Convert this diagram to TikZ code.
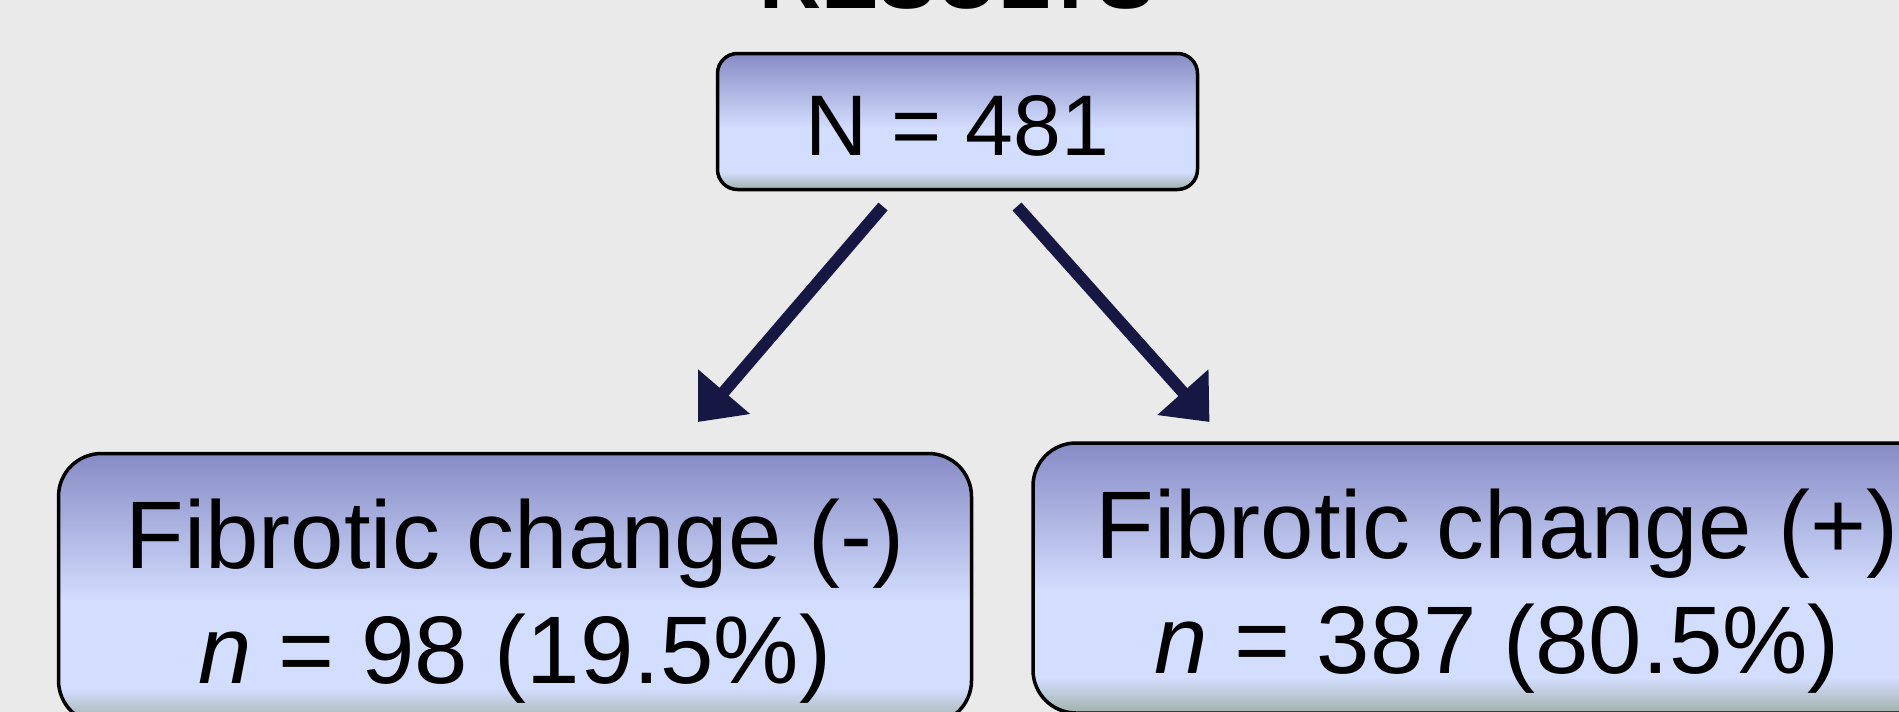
\documentclass[tikz,border=0pt]{standalone}
\usepackage{fontspec}
\setmainfont{Liberation Sans}
\usetikzlibrary{arrows.meta}
\definecolor{bg}{RGB}{234,234,234}
\definecolor{gtop}{RGB}{135,139,197}
\definecolor{glight}{RGB}{211,221,254}
\definecolor{gbot}{RGB}{160,178,168}
\definecolor{arrowc}{RGB}{23,23,68}
\pgfdeclareverticalshading{boxgrad}{100bp}{color(0bp)=(gbot); color(25bp)=(gbot); color(31.5bp)=(glight); color(47.5bp)=(glight); color(75bp)=(gtop); color(100bp)=(gtop)}
\begin{document}
\begin{tikzpicture}[x=1pt,y=-1pt,
  box/.style={draw=black, line width=3.5pt, shading=boxgrad, rectangle, inner sep=0pt, outer sep=0pt},
  big/.style={font=\fontsize{96}{115}\selectfont, align=center},
  arr/.style={draw=arrowc, line width=12pt, -{Triangle[length=40pt,width=66pt]}}]
\clip (0,0) rectangle (1899,712);
\fill[bg] (0,0) rectangle (1899,712);
\node[font=\fontsize{86}{100}\selectfont\bfseries, anchor=base, inner sep=0pt] (title) at (957,9) {RESULTS};
\node[box, rounded corners=20pt, minimum width=480pt, minimum height=136pt,
      font=\fontsize{86}{100}\selectfont, text height=67pt, text depth=0pt] (top) at (957.5,121.5) {N = 481};
\node[box, big, rounded corners=43pt, minimum width=913pt, minimum height=270pt,
      text height=209pt, text depth=20pt] (neg) at (515,588.5) {Fibrotic change (-)\\\textit{n} = 98 (19.5\%)};
\node[box, big, rounded corners=43pt, minimum width=928pt, minimum height=270pt,
      text height=210pt, text depth=20pt] (pos) at (1497,578) {Fibrotic change (+)\\\textit{n} = 387 (80.5\%)};
\coordinate (l0) at ([xshift=-74.5pt,yshift=-17pt]top.south);
\coordinate (l1) at ([xshift=183pt,yshift=31.5pt]neg.north);
\coordinate (r0) at ([xshift=59.5pt,yshift=-17pt]top.south);
\coordinate (r1) at ([xshift=-287.5pt,yshift=21pt]pos.north);
\draw[arr] (l0) -- (l1);
\draw[arr] (r0) -- (r1);
\end{tikzpicture}
\end{document}
